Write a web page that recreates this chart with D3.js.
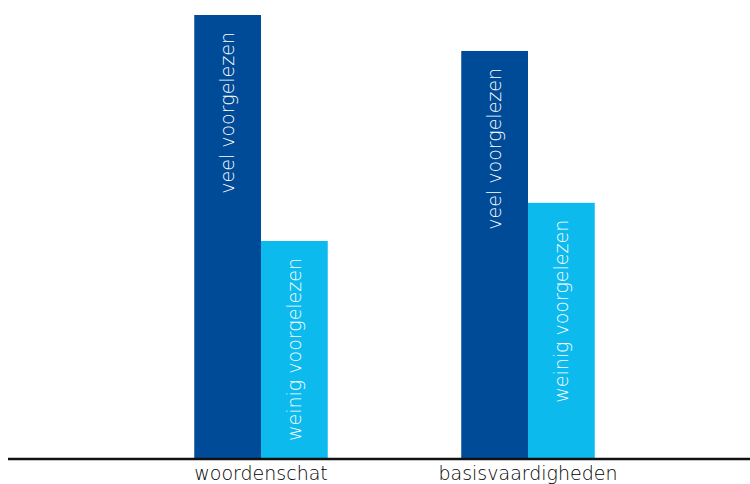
<!DOCTYPE html>
<html><head><meta charset="utf-8">
<script src="https://cdn.jsdelivr.net/npm/d3@7"></script>
<style>body{margin:0;background:#fff}svg{display:block}</style>
</head><body>
<svg id="c" width="750" height="484"></svg>
<script>
const categories = ["woordenschat", "basisvaardigheden"];
const series = ["veel voorgelezen", "weinig voorgelezen"];
const veel = [100, 91.9];
const weinig = [49.1, 57.7];
const colors = ["#004b98", "#0cbaee"];

const svg = d3.select("#c");
const baseY = 459;
const font = "'DejaVu Sans', sans-serif";
const y = d3.scaleLinear().domain([0, 100]).range([baseY, 15]);
const x0 = d3.scaleBand().domain(categories).range([127.5, 661.5]).paddingInner(0.5).paddingOuter(0.25);
const x1 = d3.scaleBand().domain(series).range([0, x0.bandwidth()]);

const data = categories.map((c, i) => ({cat: c, vals: [{s: series[0], v: veel[i]}, {s: series[1], v: weinig[i]}]}));

const g = svg.selectAll("g.grp").data(data).join("g")
  .attr("transform", d => `translate(${x0(d.cat)},0)`);

g.selectAll("rect").data(d => d.vals).join("rect")
  .attr("x", d => x1(d.s))
  .attr("y", d => y(d.v))
  .attr("width", x1.bandwidth())
  .attr("height", d => baseY - y(d.v))
  .attr("fill", (d, i) => colors[i]);

g.selectAll("text.lbl").data(d => d.vals).join("text")
  .attr("class", "lbl")
  .attr("transform", d => `translate(${x1(d.s) + x1.bandwidth() / 2},${y(d.v) + 17}) rotate(-90)`)
  .attr("text-anchor", "end")
  .attr("dy", "0.35em")
  .attr("fill", "#fff")
  .style("font-family", font)
  .style("font-weight", 200)
  .style("font-size", "19px")
  .text(d => d.s);

const axis = d3.axisBottom(x0).tickSize(0).tickPadding(8);
const ax = svg.append("g").attr("transform", `translate(0,${baseY})`).call(axis);
ax.select(".domain").remove();
ax.selectAll("text")
  .style("font-family", font)
  .style("font-weight", 200)
  .style("font-size", "19px")
  .attr("fill", "#000");

svg.append("line").attr("x1", 8).attr("x2", 750).attr("y1", baseY).attr("y2", baseY)
  .attr("stroke", "#111").attr("stroke-width", 2.5);
</script>
</body></html>
